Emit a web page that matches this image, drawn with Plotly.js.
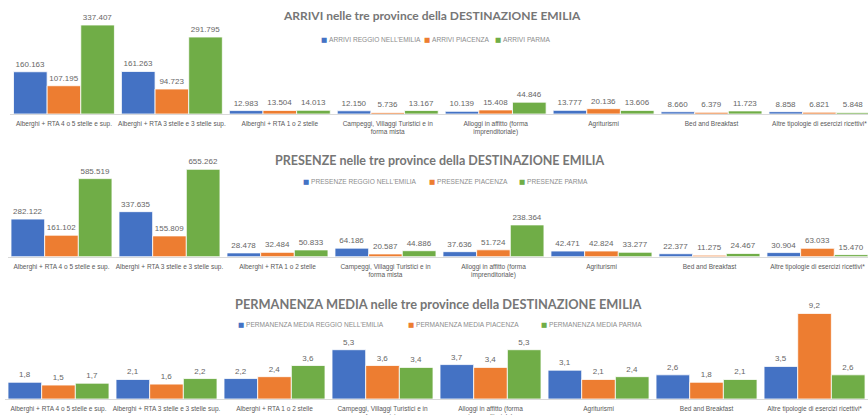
<!DOCTYPE html>
<html>
<head>
<meta charset="utf-8">
<script src="https://cdn.plot.ly/plotly-3.0.1.min.js"></script>
<style>html,body{margin:0;padding:0;background:#fff;}#chart{width:868px;height:415px;}</style>
</head>
<body>
<div id="chart"></div>
<script>
// ---- data ----
const categories = [
  "Alberghi + RTA 4 o 5 stelle e sup.",
  "Alberghi + RTA 3 stelle e 3 stelle sup.",
  "Alberghi + RTA 1 o 2 stelle",
  "Campeggi, Villaggi Turistici e in<br>forma mista",
  "Alloggi in affitto (forma<br>imprenditoriale)",
  "Agriturismi",
  "Bed and Breakfast",
  "Altre tipologie di esercizi ricettivi*"
];

const arriviNames = ["ARRIVI REGGIO NELL'EMILIA", "ARRIVI PIACENZA", "ARRIVI PARMA"];
const arriviReggio   = [160163, 161263, 12983, 12150, 10139, 13777, 8660, 8858];
const arriviPiacenza = [107195, 94723, 13504, 5736, 15408, 20136, 6379, 6821];
const arriviParma    = [337407, 291795, 14013, 13167, 44846, 13606, 11723, 5848];

const presenzeNames = ["PRESENZE REGGIO NELL'EMILIA", "PRESENZE PIACENZA", "PRESENZE PARMA"];
const presenzeReggio   = [282122, 337635, 28478, 64186, 37636, 42471, 22377, 30904];
const presenzePiacenza = [161102, 155809, 32484, 20587, 51724, 42824, 11275, 63033];
const presenzeParma    = [585519, 655262, 50833, 44886, 238364, 33277, 24467, 15470];

const permNames = ["PERMANENZA MEDIA REGGIO NELL'EMILIA", "PERMANENZA MEDIA PIACENZA", "PERMANENZA MEDIA PARMA"];
const permReggio   = [1.8, 2.1, 2.2, 5.3, 3.7, 3.1, 2.6, 3.5];
const permPiacenza = [1.5, 1.6, 2.4, 3.6, 3.4, 2.1, 1.8, 9.2];
const permParma    = [1.7, 2.2, 3.6, 3.4, 5.3, 2.4, 2.1, 2.6];

const titles = [
  "ARRIVI nelle tre province della DESTINAZIONE EMILIA",
  "PRESENZE nelle tre province della DESTINAZIONE EMILIA",
  "PERMANENZA MEDIA nelle tre province della DESTINAZIONE EMILIA"
];

// ---- style ----
const colors = ["#4472C4", "#ED7D31", "#70AD47"];
const W = 868, H = 415;
const labelFont = {family: "Liberation Sans, Arial, sans-serif", size: 8, color: "#666666"};
const tickFont = {family: "Liberation Sans Narrow, Arial Narrow, sans-serif", size: 6.5, color: "#595959"};
const titleFont = {family: "Lato, sans-serif", size: 12, color: "#767676", weight: 700};
const legFont = {family: "Liberation Sans Narrow, sans-serif", size: 6.6, color: "#8c8c8c"};

const panels = [
  {names: arriviNames, series: [arriviReggio, arriviPiacenza, arriviParma], fmt: "%{y:,.0f}",
   xa: "x", ya: "y", base: 114, top: 0, xl: 10, rng: [-0.5, 7.45], ymax: 432160,
   title: {x: 432, y: 16, size: 12}, leg: [320, 423, 494], legY: 40},
  {names: presenzeNames, series: [presenzeReggio, presenzePiacenza, presenzeParma], fmt: "%{y:,.0f}",
   xa: "x2", ya: "y2", base: 256.7, top: 150, xl: 7.5, rng: [-0.5, 7.468], ymax: 800000,
   title: {x: 440, y: 160, size: 12.5}, leg: [302, 428, 518], legY: 182},
  {names: permNames, series: [permReggio, permPiacenza, permParma], fmt: "%{y:.1f}",
   xa: "x3", ya: "y3", base: 399, top: 290, xl: 4.5, rng: [-0.5, 7.495], ymax: 11.72,
   title: {x: 438, y: 304, size: 12.8}, leg: [237, 407, 540], legY: 325}
];

const traces = [];
const layout = {
  width: W, height: H,
  margin: {l: 0, r: 0, t: 0, b: 0},
  paper_bgcolor: "#ffffff", plot_bgcolor: "#ffffff",
  separators: ",.",
  barmode: "group", bargap: 0.065, bargroupgap: 0,
  showlegend: false,
  annotations: []
};

panels.forEach((p, pi) => {
  p.series.forEach((vals, si) => {
    traces.push({
      type: "bar", x: categories, y: vals, name: p.names[si],
      xaxis: p.xa, yaxis: p.ya,
      marker: {color: colors[si], line: {color: "#ffffff", width: 0.8}},
      text: vals, texttemplate: p.fmt, textposition: "outside",
      textfont: labelFont, outsidetextfont: labelFont,
      constraintext: "none", cliponaxis: false, hoverinfo: "x+y+name"
    });
  });
  const sfx = pi === 0 ? "" : String(pi + 1);
  layout["xaxis" + sfx] = {
    domain: [p.xl / W, 1], range: p.rng, type: "category",
    anchor: "y" + sfx, showline: true, linecolor: "#d9d9d9", linewidth: 1,
    showgrid: false, zeroline: false, ticks: "", tickangle: 0, tickfont: tickFont,
    ticklabelstandoff: 3, automargin: false, fixedrange: true
  };
  layout["yaxis" + sfx] = {
    domain: [1 - p.base / H, 1 - p.top / H], range: [0, p.ymax],
    anchor: "x" + sfx, visible: false, showgrid: false, zeroline: false, fixedrange: true
  };
  layout.annotations.push({
    xref: "paper", yref: "paper", x: p.title.x / W, y: 1 - p.title.y / H,
    xanchor: "center", yanchor: "middle", showarrow: false,
    text: titles[pi], font: Object.assign({}, titleFont, {size: p.title.size})
  });
  p.names.forEach((n, si) => {
    layout.annotations.push({
      xref: "paper", yref: "paper", x: (p.leg[si] - 1) / W, y: 1 - p.legY / H,
      xanchor: "left", yanchor: "middle", showarrow: false,
      text: '<span style="color:' + colors[si] + ';font-family:DejaVu Sans">■</span>\u00A0' + n,
      font: legFont
    });
  });
});

Plotly.newPlot("chart", traces, layout, {displayModeBar: false, staticPlot: true});
</script>
</body>
</html>
